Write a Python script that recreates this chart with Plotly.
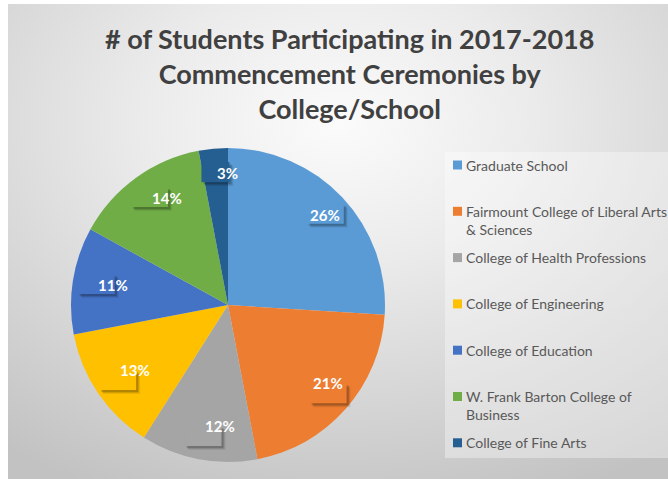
import base64
import math
import plotly.graph_objects as go

# Share of commencement participants by college/school (percent)
colleges = [
    "Graduate School",
    "Fairmount College of Liberal Arts & Sciences",
    "College of Health Professions",
    "College of Engineering",
    "College of Education",
    "W. Frank Barton College of Business",
    "College of Fine Arts",
]
legend_labels = [
    "Graduate School",
    "Fairmount College of Liberal Arts<br>& Sciences",
    "College of Health Professions",
    "College of Engineering",
    "College of Education",
    "W. Frank Barton College of<br>Business",
    "College of Fine Arts",
]
shares = [26, 21, 12, 13, 11, 14, 3]
colors = ["#5B9BD5", "#ED7D31", "#A5A5A5", "#FFC000", "#4472C4", "#70AD47", "#255E91"]

title_text = "# of Students Participating in 2017-2018<br>Commencement Ceremonies by<br>College/School"

W, H = 668, 479
FONT = "Lato, 'Open Sans', sans-serif"

# pie geometry in pixels
CX, CY, R = 228, 305, 157


def px(x):
    return x / W


def py(y):
    return 1 - y / H


fig = go.Figure()
fig.add_trace(go.Pie(
    labels=colleges,
    values=shares,
    sort=False,
    direction="clockwise",
    rotation=0,
    marker=dict(colors=colors, line=dict(width=0)),
    textinfo="none",
    hoverinfo="label+percent",
    showlegend=False,
    domain=dict(x=[px(CX - R), px(CX + R)], y=[py(CY + R), py(CY - R)]),
))

annotations = []
shapes = []

# title block
annotations.append(dict(
    x=px(349), y=py(73), xref="paper", yref="paper", xanchor="center", yanchor="middle",
    showarrow=False, align="center", text=title_text,
    font=dict(family=FONT, size=27, color="#404040", weight="bold"),
))


def box(x0, y0, x1, y1, fill):
    return dict(type="rect", xref="paper", yref="paper",
                x0=px(x0), x1=px(x1), y0=py(y1), y1=py(y0),
                fillcolor=fill, line=dict(width=0))


# percentage labels in boxes with a soft drop shadow
total = sum(shares)
cum = 0
for v, c in zip(shares, colors):
    mid = 2 * math.pi * (cum + v / 2) / total
    cum += v
    lx = CX + 0.85 * R * math.sin(mid)
    ly = CY - 0.85 * R * math.cos(mid)
    label = f"{round(100 * v / total)}%"
    bw, bh = 9 * len(label) + 10, 20
    for sh, alpha in ((4, 0.07), (3, 0.11), (2, 0.16)):
        shapes.append(box(lx - bw / 2 + sh, ly - bh / 2 + sh, lx + bw / 2 + sh, ly + bh / 2 + sh,
                          f"rgba(0,0,0,{alpha})"))
    shapes.append(box(lx - bw / 2, ly - bh / 2, lx + bw / 2, ly + bh / 2, c))
    annotations.append(dict(
        x=px(lx), y=py(ly), xref="paper", yref="paper", showarrow=False, yshift=-1,
        text=label, font=dict(family=FONT, size=15, color="white", weight="bold"),
    ))

# legend panel
shapes.append(dict(type="rect", xref="paper", yref="paper",
                   x0=px(445), x1=1.0, y0=py(458), y1=py(152),
                   fillcolor="rgba(255,255,255,0.35)", line=dict(width=0), layer="below"))
LEG_FS = 14
line_h = 18.3
for i, (lab, c) in enumerate(zip(legend_labels, colors)):
    yi = 165 + 46.3 * i
    shapes.append(box(453, yi - 4.5, 462, yi + 4.5, c))
    nlines = lab.count("<br>") + 1
    yc = yi + (nlines - 1) * line_h / 2
    annotations.append(dict(
        x=px(465), y=py(yc), xref="paper", yref="paper", xanchor="left", yanchor="middle",
        showarrow=False, align="left", text=lab,
        font=dict(family=FONT, size=LEG_FS, color="#595959"), borderpad=0,
    ))

# radial grey backdrop of the chart area
svg = (
    "<svg xmlns='http://www.w3.org/2000/svg' width='660' height='475' preserveAspectRatio='none'>"
    "<defs><radialGradient id='g' cx='50%' cy='25%' r='85%'>"
    "<stop offset='0' stop-color='#fbfbfb'/><stop offset='0.35' stop-color='#ebebeb'/>"
    "<stop offset='1' stop-color='#c2c2c2'/></radialGradient></defs>"
    "<rect width='100%' height='100%' fill='url(#g)'/></svg>"
)
bg_uri = "data:image/svg+xml;base64," + base64.b64encode(svg.encode()).decode()

fig.update_layout(
    width=W, height=H,
    margin=dict(l=0, r=0, t=0, b=0),
    paper_bgcolor="white",
    plot_bgcolor="rgba(0,0,0,0)",
    annotations=annotations,
    shapes=shapes,
    images=[dict(source=bg_uri, xref="paper", yref="paper", x=px(8), y=py(4),
                 sizex=1 - px(8), sizey=py(4), xanchor="left", yanchor="top",
                 sizing="stretch", layer="below")],
)

fig.write_html("out.html")
